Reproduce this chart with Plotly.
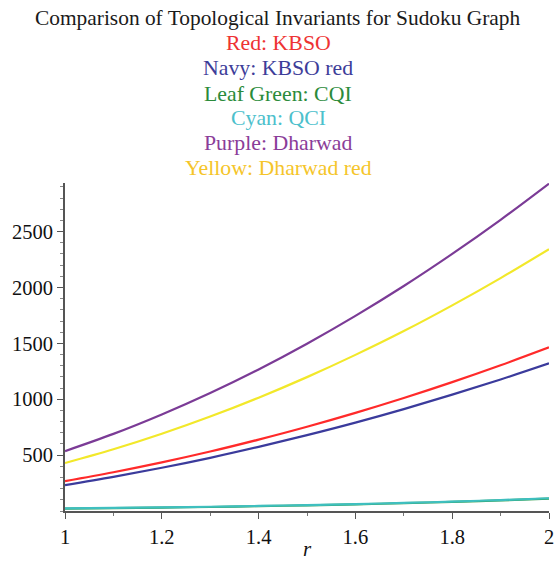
import plotly.graph_objects as go

r_vals = [1.0, 1.1, 1.2, 1.3, 1.4, 1.5, 1.6, 1.7, 1.8, 1.9, 2.0]
kbso = [268, 347, 435, 532, 639, 754, 878, 1011, 1153, 1304, 1464]
kbso_red = [232, 306, 387, 476, 574, 679, 791, 912, 1041, 1177, 1321]
cqi = [22, 26, 31, 36, 43, 51, 60, 70, 81, 95, 110]
qci = [24, 28, 32, 38, 45, 53, 62, 72, 84, 98, 114]
dharwad = [536, 690, 864, 1056, 1267, 1497, 1746, 2013, 2300, 2605, 2929]
dharwad_red = [429, 552, 691, 845, 1014, 1198, 1397, 1610, 1840, 2084, 2343]

series = [
    ("Leaf Green: CQI", cqi, "#2e9b4a"),
    ("Cyan: QCI", qci, "#3fbfbf"),
    ("Navy: KBSO red", kbso_red, "#3b3b9c"),
    ("Red: KBSO", kbso, "#ff2a2a"),
    ("Yellow: Dharwad red", dharwad_red, "#f2e82a"),
    ("Purple: Dharwad", dharwad, "#7b3b96"),
]

title_lines = [
    ("Comparison of Topological Invariants for Sudoku Graph", "#1a1a1a", 21.4),
    ("Red: KBSO", "#ee3333", 21.8),
    ("Navy: KBSO red", "#3d3d99", 21.8),
    ("Leaf Green: CQI", "#2b8b3b", 21.8),
    ("Cyan: QCI", "#4cc0cc", 21.8),
    ("Purple: Dharwad", "#8b3d99", 21.8),
    ("Yellow: Dharwad red", "#f5c52a", 21.8),
]

fig = go.Figure()
for name, vals, col in series:
    fig.add_trace(go.Scatter(x=r_vals, y=vals, mode="lines", name=name,
                             line=dict(color=col, width=2.2, shape="spline")))

W, H = 556, 561
ml, mr, mt, mb = 65, 7, 183, 50
pw = W - ml - mr
ph = H - mt - mb
line_pix = [18, 43, 68, 94, 118, 143, 168]
for (txt, col, sz), yp in zip(title_lines, line_pix):
    fig.add_annotation(text=txt, x=(278 - ml) / pw, xref="paper", y=(H - mb - yp) / ph, yref="paper",
                       xanchor="center", yanchor="middle", showarrow=False,
                       font=dict(family="Liberation Serif", size=sz, color=col))

fig.update_layout(
    width=W, height=H,
    margin=dict(l=ml, r=mr, t=mt, b=mb, autoexpand=False),
    paper_bgcolor="white", plot_bgcolor="white",
    showlegend=False,
    font=dict(family="Liberation Serif", size=20.5, color="#111"),
)
fig.update_xaxes(range=[1, 2], tickvals=[1, 1.2, 1.4, 1.6, 1.8, 2],
                 ticktext=["1", "1.2", "1.4", "1.6", "1.8", "2"],
                 showgrid=False, zeroline=False, showline=True, linecolor="#555", linewidth=2,
                 ticks="outside", ticklen=6, tickcolor="#555", tickwidth=1, automargin=False,
                 minor=dict(dtick=0.1, ticks="outside", ticklen=3, tickcolor="#777"),
                 title=dict(text="<i>r</i>", standoff=8, font=dict(size=21)))
fig.update_yaxes(range=[0, 2935], tickvals=[500, 1000, 1500, 2000, 2500],
                 showgrid=False, zeroline=False, showline=True, linecolor="#555", linewidth=2,
                 ticks="outside", ticklen=6, tickcolor="#555", tickwidth=1, automargin=False,
                 minor=dict(tick0=0, dtick=100, ticks="outside", ticklen=3, tickcolor="#888"))

fig.write_html("out.html")
